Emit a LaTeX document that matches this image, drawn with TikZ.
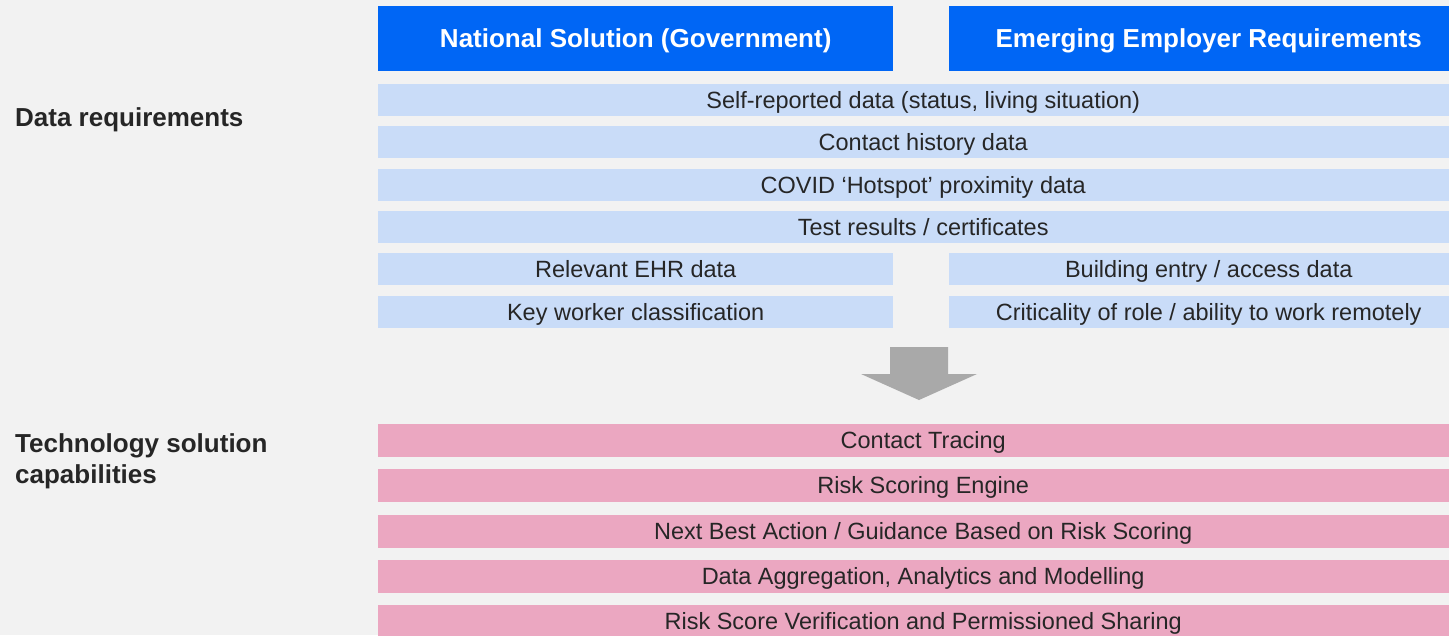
\documentclass[tikz,border=0pt]{standalone}
\usepackage{fontspec}
\setmainfont{Liberation Sans}
\begin{document}
\begin{tikzpicture}[x=1pt,y=-1pt,
  hdr/.style={fill=hdrblue,text=white,font=\fontsize{26}{30}\selectfont\bfseries,inner sep=0pt,anchor=north west,text height=19pt,text depth=2pt},
  drow/.style={fill=rowblue,text=txt,font=\fontsize{23.5}{28}\selectfont,inner sep=0pt,anchor=north west,text height=17pt,text depth=1pt},
  prow/.style={fill=rowpink,text=txt,font=\fontsize{23.5}{28}\selectfont,inner sep=0pt,anchor=north west,text height=17pt,text depth=1pt},
  side/.style={text=txt,font=\fontsize{26}{31}\selectfont\bfseries,inner sep=0pt,align=left}]
\definecolor{bg}{HTML}{F2F2F2}
\definecolor{hdrblue}{HTML}{0066F5}
\definecolor{rowblue}{HTML}{C9DCF8}
\definecolor{rowpink}{HTML}{EBA7C1}
\definecolor{txt}{HTML}{262626}
\definecolor{arrowgrey}{HTML}{A9A9A9}
\useasboundingbox (0,0) rectangle (1449,635);
\fill[bg] (0,0) rectangle (1449,635);
% headers
\node[hdr,minimum width=515pt,minimum height=65pt] (h1) at (378,6) {National Solution (Government)};
\node[hdr,minimum width=519pt,minimum height=65pt] (h2) at (949,6) {Emerging Employer Requirements};
% data rows
\node[drow,minimum width=1090pt,minimum height=32pt] (d1) at (378,84) {Self-reported data (status, living situation)};
\node[drow,minimum width=1090pt,minimum height=32pt] (d2) at (378,126) {Contact history data};
\node[drow,minimum width=1090pt,minimum height=32pt] (d3) at (378,169) {COVID ‘Hotspot’ proximity data};
\node[drow,minimum width=1090pt,minimum height=32pt] (d4) at (378,211) {Test results / certificates};
\node[drow,minimum width=515pt,minimum height=32pt] (d5) at (378,253) {Relevant EHR data};
\node[drow,minimum width=519pt,minimum height=32pt] (d6) at (949,253) {Building entry / access data};
\node[drow,minimum width=515pt,minimum height=32pt] (d7) at (378,296) {Key worker classification};
\node[drow,minimum width=519pt,minimum height=32pt] (d8) at (949,296) {Criticality of role / ability to work remotely};
% arrow
\fill[arrowgrey] (890,347) -- (948,347) -- (948,374) -- (977,374) -- (919,400) -- (861,374) -- (890,374) -- cycle;
% capability rows
\node[prow,minimum width=1090pt,minimum height=33pt] (c1) at (378,424) {Contact Tracing};
\node[prow,minimum width=1090pt,minimum height=33pt] (c2) at (378,469) {Risk Scoring Engine};
\node[prow,minimum width=1090pt,minimum height=33pt] (c3) at (378,515) {Next Best Action / Guidance Based on Risk Scoring};
\node[prow,minimum width=1090pt,minimum height=33pt] (c4) at (378,560) {Data Aggregation, Analytics and Modelling};
\node[prow,minimum width=1090pt,minimum height=33pt] (c5) at (378,605) {Risk Score Verification and Permissioned Sharing};
% side labels
\node[side,anchor=base west] (l1) at (15,126) {Data requirements};
\node[side,anchor=base west] (l2) at (15,452) {Technology solution};
\node[side,anchor=base west] (l3) at (15,483) {capabilities};
\end{tikzpicture}
\end{document}
